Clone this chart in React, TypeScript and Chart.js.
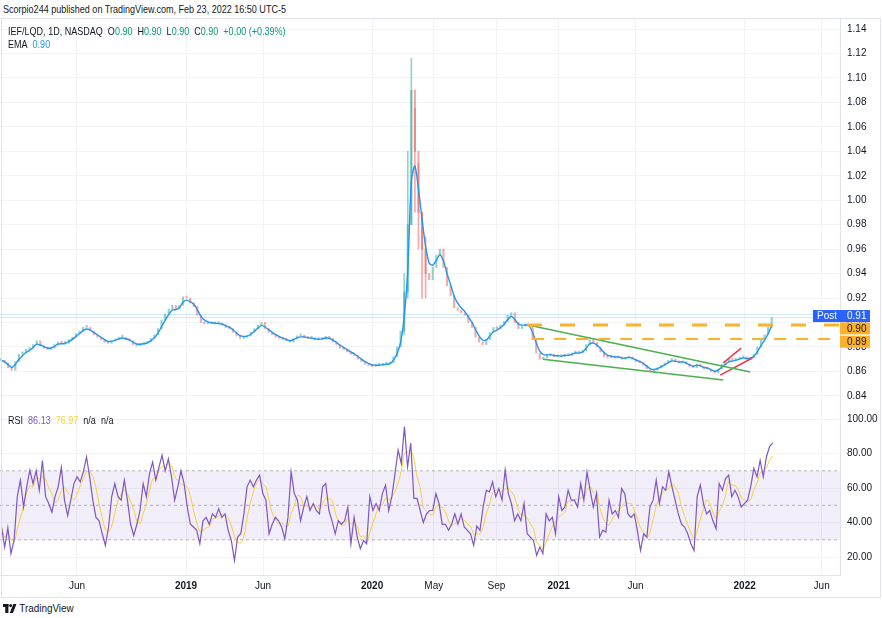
import React, { useEffect, useRef } from "react";
import { Chart, registerables } from "chart.js";
Chart.register(...registerables);

const FONT = "'Liberation Sans', Arial, sans-serif";
const TEXT = "#131722";

// time axis: days since 2018-01-01
const xMin = 0;
const xMax = 1648;
const xTickDays = [151, 365, 516, 730, 851, 974, 1096, 1247, 1461, 1612];
const xTickLabels = ["Jun", "2019", "Jun", "2020", "May", "Sep", "2021", "Jun", "2022", "Jun"];
const yearTickDays = [365, 730, 1096, 1461];

// weekly closes IEF/LQD, first week at day 2
const firstWeekDay = 2;
const weekStep = 7;
const closes = [
  0.869, 0.867, 0.863, 0.861, 0.868, 0.874, 0.876, 0.878, 0.879, 0.882,
  0.885, 0.881, 0.879, 0.878, 0.879, 0.882, 0.884, 0.883, 0.883, 0.886,
  0.888, 0.891, 0.893, 0.896, 0.896, 0.893, 0.890, 0.888, 0.886, 0.884,
  0.883, 0.885, 0.886, 0.888, 0.888, 0.886, 0.885, 0.882, 0.881, 0.882,
  0.883, 0.884, 0.887, 0.890, 0.895, 0.902, 0.907, 0.911, 0.914, 0.911,
  0.914, 0.921, 0.920, 0.916, 0.913, 0.906, 0.900, 0.899, 0.899, 0.899,
  0.899, 0.899, 0.898, 0.896, 0.895, 0.892, 0.889, 0.887, 0.888, 0.889,
  0.892, 0.895, 0.898, 0.900, 0.895, 0.892, 0.890, 0.888, 0.887, 0.886,
  0.885, 0.884, 0.887, 0.889, 0.889, 0.888, 0.887, 0.887, 0.886, 0.886,
  0.887, 0.888, 0.887, 0.884, 0.882, 0.879, 0.878, 0.876, 0.874, 0.873,
  0.870, 0.868, 0.866, 0.865, 0.864, 0.865, 0.865, 0.866, 0.866, 0.867,
  0.872, 0.880, 0.893, 0.925, 0.980, 1.090, 1.040, 0.990, 0.960, 0.940,
  0.935, 0.945, 0.955, 0.960, 0.945, 0.930, 0.922, 0.912, 0.910, 0.908,
  0.906, 0.900, 0.896, 0.888, 0.884, 0.882, 0.886, 0.892, 0.896, 0.895,
  0.898, 0.901, 0.906, 0.908, 0.900, 0.895, 0.897, 0.898, 0.897, 0.886,
  0.875, 0.870, 0.871, 0.873, 0.874, 0.872, 0.873, 0.872, 0.874, 0.873,
  0.875, 0.876, 0.875, 0.877, 0.882, 0.886, 0.884, 0.880, 0.876, 0.872,
  0.871, 0.872, 0.871, 0.872, 0.870, 0.871, 0.872, 0.870, 0.868, 0.867,
  0.865, 0.862, 0.860, 0.861, 0.863, 0.865, 0.867, 0.869, 0.870, 0.868,
  0.867, 0.868, 0.866, 0.864, 0.863, 0.866, 0.864, 0.862, 0.862, 0.860,
  0.859, 0.862, 0.866, 0.868, 0.870, 0.869, 0.870, 0.871, 0.872, 0.870,
  0.871, 0.874, 0.880, 0.886, 0.890, 0.896, 0.904,
];
const spikeWeeks = [113, 114, 115, 116, 117, 118, 119];
const spikeHighs = [0.94, 1.04, 1.116, 1.075, 1.03, 0.99, 0.97];
const spikeLows = [0.89, 0.92, 0.98, 0.99, 0.96, 0.92, 0.92];
const emaLength = 3;

// RSI (14) readings, evenly spaced from rsiFirstDay to rsiLastDay
const rsiFirstDay = 3;
const rsiLastDay = 1516;
const rsiValues = [
  37.4, 25.7, 37, 22, 30, 55, 64.6, 49, 60.7, 70.4,
  62.6, 70, 58.7, 76, 55, 51, 46, 55, 60.7, 72,
  53, 44, 53, 62.6, 66.5, 63.6, 69.4, 78, 66.5, 53,
  43, 41, 33.5, 26.7, 37.4, 55, 62.6, 55, 53, 64.6,
  53, 39, 32.5, 39, 47, 62.6, 55, 68.4, 75, 64.6,
  72, 79, 70, 77, 66.5, 53, 60.7, 70, 62.6, 49,
  39, 37.4, 35.5, 27.7, 41, 43, 39, 45, 43, 48,
  43, 45, 35.5, 29.6, 18, 31.6, 33.5, 45, 60.7, 64.6,
  60.7, 64.6, 67.5, 56.8, 53, 33.5, 39, 43, 41, 37.4,
  30.6, 43, 69.4, 56.8, 53,
  41, 49, 55, 47, 51, 47, 45, 60.7, 62.6, 47,
  41, 33.5, 41, 39, 41, 49, 27.7, 43, 31.6, 24.8,
  29.6, 27.7, 55, 47, 51, 47, 56.8, 61.7, 47, 55,
  68.4, 82, 74.3, 95.6, 72.3, 86, 54, 54, 47, 40,
  45, 47, 47, 56.8, 51, 39, 39, 35.5, 39, 45,
  39, 45, 37.4, 35.5, 33.5, 26.7, 38, 35.5, 49, 58.7,
  57.8, 63.6, 55, 59.7, 53, 70.4, 56.8, 51, 41, 45,
  41, 51, 33.5, 31.6, 29.6, 21, 25.7, 22, 45, 41,
  43, 33.5, 55, 47, 49, 58.7, 53, 53, 49, 62.6,
  53, 69.4, 58.7, 49,
  56.8, 31.6, 35.5, 34.5, 53, 45, 47, 43, 59.7, 56.8,
  45, 43, 45, 35.5, 23.8, 33.5, 31.6, 49, 53, 64.6,
  51, 60.7, 58.7, 69.4, 60.7, 53, 45, 39, 37.4, 33.5,
  27.7, 23.8, 55, 61.7, 51, 45, 47, 41, 36.4, 62.6,
  58.7, 65.5, 67.5, 55, 58.7, 55, 49, 51, 53, 60.7,
  71.4, 66.5, 76, 66.5, 78, 84, 86.13,
];
const rsiMaLength = 4;
const rsiBandUpper = 70;
const rsiBandMiddle = 50;
const rsiBandLower = 30;

// axes
const priceMin = 0.8301;
const priceMax = 1.149;
const priceTicks = [0.84, 0.86, 0.88, 0.9, 0.92, 0.94, 0.96, 0.98, 1.0, 1.02, 1.04, 1.06, 1.08, 1.1, 1.12, 1.14];
const rsiMin = 9.6;
const rsiMax = 106.4;
const rsiTicks = [20, 40, 60, 80, 100];

// drawings
const levelStartDays = [1034, 1044];
const levelValues = [0.898, 0.8865];
const levelLabels = ["0.90", "0.89"];
const levelLabelValues = [0.8952, 0.8843];
const postLineValues = [0.9065, 0.904];
const postLabelValue = 0.9053;
const postLabelText = "0.91";
const greenUpperDays = [1036, 1472];
const greenUpperValues = [0.898, 0.8595];
const greenLowerDays = [1065, 1419];
const greenLowerValues = [0.87, 0.853];
const redUpperDays = [1419, 1454];
const redUpperValues = [0.867, 0.879];
const redLowerDays = [1413, 1476];
const redLowerValues = [0.857, 0.871];

const weekDay = (i: number) => firstWeekDay + i * weekStep;

function fixedTicks(values: number[]) {
  return (s: any) => {
    s.ticks = values.map((v) => ({ value: v }));
  };
}

function noPad(s: any) {
  s.paddingTop = 0;
  s.paddingBottom = 0;
  s.paddingLeft = 0;
  s.paddingRight = 0;
}

function seg(days: number[], vals: number[]) {
  return days.map((d, i) => ({ x: d, y: vals[i] }));
}

export default function App() {
  const priceRef = useRef<HTMLCanvasElement>(null);
  const rsiRef = useRef<HTMLCanvasElement>(null);

  useEffect(() => {
    document.body.style.margin = "0";
    const alpha = 2 / (emaLength + 1);
    const ema: number[] = [];
    closes.forEach((c, i) => ema.push(i === 0 ? c : alpha * c + (1 - alpha) * ema[i - 1]));

    const up = "rgba(38,166,154,0.5)";
    const down = "rgba(239,83,80,0.5)";
    const candleData = closes.map((c, i) => ({ x: weekDay(i), y: [i === 0 ? c : closes[i - 1], c] }));
    const candleColors = closes.map((c, i) => (i > 0 && c < closes[i - 1] ? down : up));
    const wickData = spikeWeeks.map((w, k) => ({ x: weekDay(w), y: [spikeLows[k], spikeHighs[k]] }));
    const wickColors = spikeWeeks.map((w) => (closes[w] < closes[w - 1] ? down : up));

    const xGrid = {
      type: "linear" as const,
      min: xMin,
      max: xMax,
      offset: false,
      afterBuildTicks: fixedTicks(xTickDays),
      grid: { color: "#f2f3f7", drawTicks: false, offset: false },
      border: { color: "#e0e3eb" },
    };

    const labelPlugin = {
      id: "priceLabels",
      afterDatasetsDraw(chart: any) {
        const ctx = chart.ctx;
        const y = chart.scales.y;
        const right = chart.chartArea.right;
        ctx.save();
        ctx.font = `10px ${FONT}`;
        ctx.textBaseline = "middle";
        levelLabels.forEach((t, k) => {
          const py = y.getPixelForValue(levelLabelValues[k]);
          ctx.fillStyle = "#fbb12b";
          ctx.fillRect(right, py - 6, 30, 12);
          ctx.fillStyle = TEXT;
          ctx.textAlign = "left";
          ctx.fillText(t, right + 7, py + 0.5);
        });
        const py = y.getPixelForValue(postLabelValue);
        ctx.fillStyle = "#2962ff";
        ctx.fillRect(right - 27, py - 6, 57, 12);
        ctx.fillStyle = "#ffffff";
        ctx.textAlign = "left";
        ctx.fillText("Post", right - 23, py + 0.5);
        ctx.fillText(postLabelText, right + 7, py + 0.5);
        ctx.restore();
      },
    };

    const price = new Chart(priceRef.current as HTMLCanvasElement, {
      type: "line",
      data: {
        datasets: [
          {
            type: "line",
            data: [{ x: xMin, y: postLineValues[0] }, { x: xMax, y: postLineValues[0] }],
            borderColor: "rgba(33,150,243,0.22)",
            borderWidth: 1,
            pointRadius: 0,
            order: 20,
          },
          {
            type: "line",
            data: [{ x: xMin, y: postLineValues[1] }, { x: xMax, y: postLineValues[1] }],
            borderColor: "rgba(33,150,243,0.22)",
            borderWidth: 1,
            pointRadius: 0,
            order: 20,
          },
          {
            type: "bar",
            data: wickData,
            backgroundColor: wickColors,
            barThickness: 1,
            grouped: false,
            order: 11,
          },
          {
            type: "bar",
            data: candleData,
            backgroundColor: candleColors,
            barThickness: 1.5,
            minBarLength: 2,
            grouped: false,
            order: 10,
          },
          {
            type: "line",
            data: ema.map((v, i) => ({ x: weekDay(i), y: v })),
            borderColor: "#2196f3",
            borderWidth: 1.4,
            pointRadius: 0,
            tension: 0.25,
            order: 5,
          },
          {
            type: "line",
            data: [{ x: levelStartDays[0], y: levelValues[0] }, { x: xMax, y: levelValues[0] }],
            borderColor: "#fbb12b",
            borderWidth: 3,
            borderDash: [15, 18],
            pointRadius: 0,
            order: 1,
          },
          {
            type: "line",
            data: [{ x: levelStartDays[1], y: levelValues[1] }, { x: xMax, y: levelValues[1] }],
            borderColor: "#fbb12b",
            borderWidth: 2,
            borderDash: [12, 10],
            pointRadius: 0,
            order: 1,
          },
          {
            type: "line",
            data: seg(greenUpperDays, greenUpperValues),
            borderColor: "#4caf50",
            borderWidth: 1.5,
            pointRadius: 0,
            order: 1,
          },
          {
            type: "line",
            data: seg(greenLowerDays, greenLowerValues),
            borderColor: "#4caf50",
            borderWidth: 1.5,
            pointRadius: 0,
            order: 1,
          },
          {
            type: "line",
            data: seg(redUpperDays, redUpperValues),
            borderColor: "#f23645",
            borderWidth: 1.5,
            pointRadius: 0,
            order: 1,
          },
          {
            type: "line",
            data: seg(redLowerDays, redLowerValues),
            borderColor: "#f23645",
            borderWidth: 1.5,
            pointRadius: 0,
            order: 1,
          },
        ] as any,
      },
      options: {
        responsive: false,
        animation: false,
        events: [],
        layout: { padding: 0, autoPadding: false } as any,
        plugins: { legend: { display: false }, tooltip: { enabled: false } },
        scales: {
          x: {
            ...xGrid,
            ticks: { display: false },
            afterFit: (s: any) => {
              s.height = 0;
              noPad(s);
            },
          },
          y: {
            position: "right",
            min: priceMin,
            max: priceMax,
            afterBuildTicks: fixedTicks(priceTicks),
            afterFit: (s: any) => {
              s.width = 42;
              noPad(s);
            },
            grid: { color: "#f2f3f7", drawTicks: false },
            border: { color: "#e0e3eb" },
            ticks: {
              padding: 7,
              color: TEXT,
              font: { family: FONT, size: 10 },
              callback: (v: any) => Number(v).toFixed(2),
            },
          },
        } as any,
      },
      plugins: [labelPlugin],
    });

    const rsiStep = (rsiLastDay - rsiFirstDay) / (rsiValues.length - 1);
    const rsiDay = (j: number) => rsiFirstDay + j * rsiStep;
    const rsiMa = rsiValues.map((_, j) => {
      const from = Math.max(0, j - rsiMaLength + 1);
      const win = rsiValues.slice(from, j + 1);
      return win.reduce((a, b) => a + b, 0) / win.length;
    });
    const hline = (v: number) => [{ x: xMin, y: v }, { x: xMax, y: v }];
    const dashColor = "rgba(120,123,134,0.55)";

    const rsi = new Chart(rsiRef.current as HTMLCanvasElement, {
      type: "line",
      data: {
        datasets: [
          {
            data: hline(rsiBandUpper),
            borderColor: dashColor,
            borderWidth: 1,
            borderDash: [3, 3],
            pointRadius: 0,
            fill: "+1",
            backgroundColor: "rgba(126,87,194,0.1)",
            order: 20,
          },
          {
            data: hline(rsiBandLower),
            borderColor: dashColor,
            borderWidth: 1,
            borderDash: [3, 3],
            pointRadius: 0,
            fill: false,
            order: 20,
          },
          {
            data: hline(rsiBandMiddle),
            borderColor: dashColor,
            borderWidth: 1,
            borderDash: [3, 3],
            pointRadius: 0,
            fill: false,
            order: 20,
          },
          {
            data: rsiMa.map((v, j) => ({ x: rsiDay(j), y: v })),
            borderColor: "#f5cf3a",
            borderWidth: 1,
            pointRadius: 0,
            tension: 0.3,
            order: 3,
          },
          {
            data: rsiValues.map((v, j) => ({ x: rsiDay(j), y: v })),
            borderColor: "#7e57c2",
            borderWidth: 1.2,
            pointRadius: 0,
            tension: 0,
            order: 2,
          },
        ] as any,
      },
      options: {
        responsive: false,
        animation: false,
        events: [],
        layout: { padding: 0, autoPadding: false } as any,
        plugins: { legend: { display: false }, tooltip: { enabled: false } },
        scales: {
          x: {
            ...xGrid,
            afterFit: (s: any) => {
              s.height = 23;
              noPad(s);
            },
            ticks: {
              autoSkip: false,
              maxRotation: 0,
              padding: 5,
              color: TEXT,
              font: (c: any) => ({
                family: FONT,
                size: 10,
                weight: c.tick && yearTickDays.includes(c.tick.value) ? "bold" : "normal",
              }),
              callback: (v: any) => {
                const k = xTickDays.indexOf(Number(v));
                return k >= 0 ? xTickLabels[k] : "";
              },
            },
          },
          y: {
            position: "right",
            min: rsiMin,
            max: rsiMax,
            afterBuildTicks: fixedTicks(rsiTicks),
            afterFit: (s: any) => {
              s.width = 42;
              noPad(s);
            },
            grid: { color: "#f2f3f7", drawTicks: false },
            border: { color: "#e0e3eb" },
            ticks: {
              padding: 7,
              color: TEXT,
              font: { family: FONT, size: 10 },
              callback: (v: any) => Number(v).toFixed(2),
            },
          },
        } as any,
      },
    });

    return () => {
      price.destroy();
      rsi.destroy();
    };
  }, []);

  const teal = "#089981";
  const squeeze: React.CSSProperties = {
    position: "absolute",
    fontSize: 10.5,
    lineHeight: "13px",
    whiteSpace: "nowrap",
    transform: "scaleX(0.86)",
    transformOrigin: "0 0",
  };
  return (
    <div
      style={{
        position: "relative",
        width: 882,
        height: 618,
        background: "#ffffff",
        overflow: "hidden",
        fontFamily: FONT,
        color: TEXT,
      }}
    >
      <div style={{ ...squeeze, left: 3, top: 3 }}>
        Scorpio244 published on TradingView.com, Feb 23, 2022 16:50 UTC-5
      </div>
      <div style={{ position: "absolute", left: 0, top: 18, width: 882, height: 390 }}>
        <canvas ref={priceRef} width={882} height={390} style={{ display: "block" }} />
      </div>
      <div style={{ position: "absolute", left: 0, top: 408, width: 882, height: 190 }}>
        <canvas ref={rsiRef} width={882} height={190} style={{ display: "block" }} />
      </div>
      <div
        style={{
          position: "absolute",
          left: 1,
          top: 18,
          width: 880,
          height: 580,
          border: "1px solid #e0e3eb",
          boxSizing: "border-box",
          pointerEvents: "none",
        }}
      />
      <div style={{ ...squeeze, left: 8, top: 25 }}>
        IEF/LQD, 1D, NASDAQ&nbsp; O<span style={{ color: teal }}>0.90</span>&nbsp; H
        <span style={{ color: teal }}>0.90</span>&nbsp; L<span style={{ color: teal }}>0.90</span>&nbsp; C
        <span style={{ color: teal }}>0.90</span>&nbsp; <span style={{ color: teal }}>+0.00 (+0.39%)</span>
      </div>
      <div style={{ ...squeeze, left: 8, top: 38 }}>
        EMA&nbsp; <span style={{ color: "#2196f3" }}>0.90</span>
      </div>
      <div style={{ ...squeeze, left: 8, top: 414 }}>
        RSI&nbsp; <span style={{ color: "#7e57c2" }}>86.13</span>&nbsp; <span style={{ color: "#f5cf3a" }}>76.97</span>
        &nbsp; n/a&nbsp; n/a
      </div>
      <div
        style={{
          position: "absolute",
          left: 3,
          top: 602,
          display: "flex",
          alignItems: "center",
          fontSize: 11,
          lineHeight: "13px",
          whiteSpace: "nowrap",
          transform: "scaleX(0.9)",
          transformOrigin: "0 0",
        }}
      >
        <svg width="15" height="9" viewBox="0 0 15 9" style={{ marginRight: 3 }}>
          <rect x="0" y="0" width="6" height="3" fill="#131722" />
          <rect x="2.5" y="0" width="3.5" height="9" fill="#131722" />
          <circle cx="8.5" cy="1.6" r="1.6" fill="#131722" />
          <polygon points="7.5,9 11.5,0 15,0 11,9" fill="#131722" />
        </svg>
        TradingView
      </div>
    </div>
  );
}
